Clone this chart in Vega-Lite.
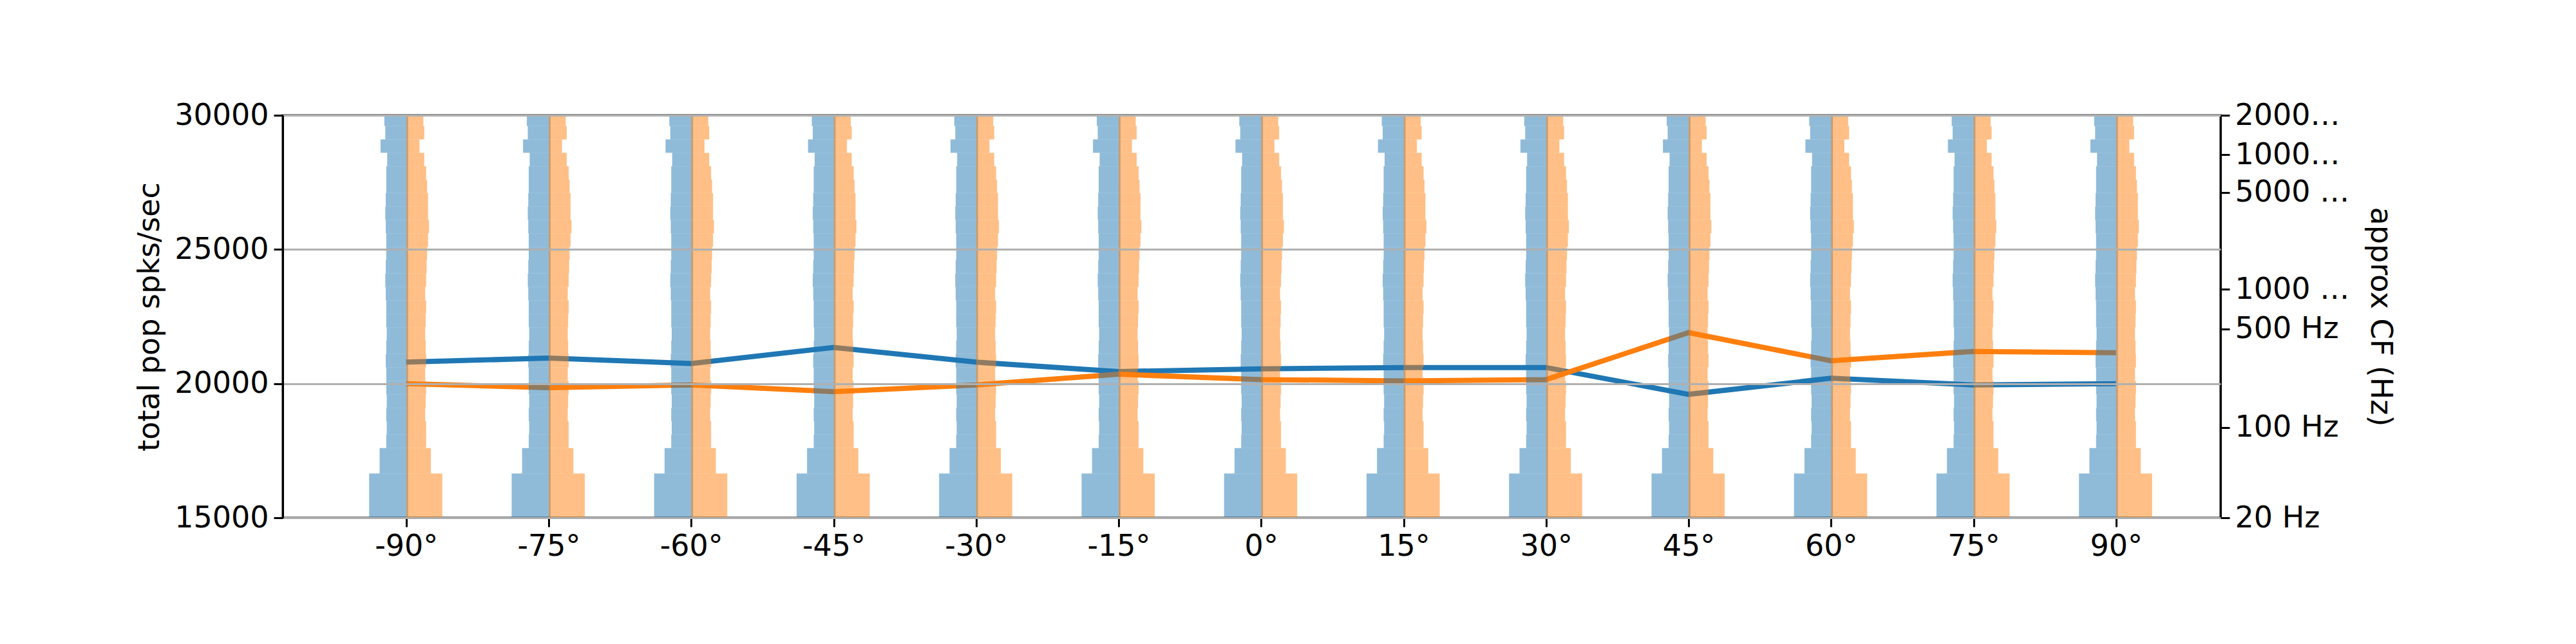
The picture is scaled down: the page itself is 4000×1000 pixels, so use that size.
{
"$schema":"https://vega.github.io/schema/vega-lite/v6.json",
"autosize":{"type":"none"},
"width":3009,"height":625,
"padding":{"left":439,"top":179,"right":552,"bottom":196},
"background":"white",
"config":{"font":"DejaVu Sans","view":{"stroke":"black","strokeWidth":3},
"axis":{"labelFontSize":46,"titleFontSize":46,"titleFontWeight":"normal","labelColor":"black","titleColor":"black","domainColor":"black","tickColor":"black","domainWidth":3,"tickWidth":3,"tickSize":14,"labelPadding":8}},
"datasets":{
"lines":[
{"angle":-90,"s":"b","v":20800},{"angle":-75,"s":"b","v":20950},{"angle":-60,"s":"b","v":20750},{"angle":-45,"s":"b","v":21350},{"angle":-30,"s":"b","v":20800},{"angle":-15,"s":"b","v":20450},{"angle":0,"s":"b","v":20550},{"angle":15,"s":"b","v":20600},{"angle":30,"s":"b","v":20600},{"angle":45,"s":"b","v":19600},{"angle":60,"s":"b","v":20200},{"angle":75,"s":"b","v":19950},{"angle":90,"s":"b","v":20000},
{"angle":-90,"s":"o","v":20000},{"angle":-75,"s":"o","v":19850},{"angle":-60,"s":"o","v":19950},{"angle":-45,"s":"o","v":19700},{"angle":-30,"s":"o","v":19950},{"angle":-15,"s":"o","v":20350},{"angle":0,"s":"o","v":20150},{"angle":15,"s":"o","v":20100},{"angle":30,"s":"o","v":20150},{"angle":45,"s":"o","v":21900},{"angle":60,"s":"o","v":20850},{"angle":75,"s":"o","v":21200},{"angle":90,"s":"o","v":21150}],
"hist":[
{"angle":-90},{"angle":-75},{"angle":-60},{"angle":-45},{"angle":-30},{"angle":-15},{"angle":0},{"angle":15},{"angle":30},{"angle":45},{"angle":60},{"angle":75},{"angle":90}],
"cf":[{"y":15000},{"y":18367},{"y":22041},{"y":23510},{"y":27122},{"y":28531},{"y":30000}]
},
"layer":[
{"layer":[
{"data":{"name":"lines"},"mark":{"type":"line","strokeWidth":8,"clip":true},
"encoding":{"x":{"field":"angle","type":"quantitative","scale":{"domain":[-103,101],"nice":false,"zero":false},
"axis":{"values":[-90,-75,-60,-45,-30,-15,0,15,30,45,60,75,90],"labelExpr":"datum.value+'°'","title":null,"grid":false}},
"y":{"field":"v","type":"quantitative","scale":{"domain":[15000,30000],"nice":false,"zero":false},
"axis":{"values":[15000,20000,25000,30000],"format":"d","title":"total pop spks/sec","grid":true,"gridColor":"#b0b0b0","gridWidth":3,"zindex":1,"titlePadding":14}},
"color":{"field":"s","type":"nominal","scale":{"domain":["b","o"],"range":["#1f77b4","#ff7f0e"]},"legend":null}}},
{"data":{"name":"hist"},
"transform":[
{"calculate":"[3.9,2.8,2.1,2.05,2.1,2.05,2.1,2.1,2.15,2.1,2.05,2.1,2.1,2.15,2.2,2.15,2.1,2.1,2.15,2.2,2.15,2.1,2.1,2.0,2.7,2.2,2.3]","as":"b"},
{"calculate":"[3.8,2.6,2.1,2.1,2.0,2.05,2.1,2.0,2.1,2.05,2.0,2.05,2.1,2.0,2.1,2.15,2.2,2.3,2.4,2.3,2.3,2.2,2.1,1.9,1.4,1.9,1.8]","as":"o"},
{"calculate":"[15000,16650,17600,18100,18600,19100,19600,20100,20600,21100,21600,22100,22600,23100,23600,24100,24600,25100,25600,26100,26600,27100,27600,28100,28600,29100,29600]","as":"lo"},
{"calculate":"[16650,17600,18100,18600,19100,19600,20100,20600,21100,21600,22100,22600,23100,23600,24100,24600,25100,25600,26100,26600,27100,27600,28100,28600,29100,29600,30000]","as":"hi"},
{"flatten":["b","o","lo","hi"]},
{"fold":["b","o"],"as":["side","w"]},
{"calculate":"datum.side=='b' ? datum.angle+0.2 : datum.angle","as":"xa"},
{"calculate":"datum.side=='b' ? datum.angle-datum.w : datum.angle+datum.w","as":"xb"}],
"mark":{"type":"rect","opacity":0.5},
"encoding":{"x":{"field":"xa","type":"quantitative"},"x2":{"field":"xb"},
"y":{"field":"lo","type":"quantitative"},"y2":{"field":"hi"},
"color":{"field":"side","type":"nominal","legend":null}}}
]},
{"data":{"name":"cf"},"mark":{"type":"rule","opacity":0},
"encoding":{"y":{"field":"y","type":"quantitative","scale":{"domain":[15000,30000],"nice":false,"zero":false},
"axis":{"orient":"right","values":[15000,18367,22041,23510,27122,28531,30000],"grid":false,"title":"approx CF (Hz)","titlePadding":24,
"labelExpr":"{'15000':'20 Hz','18367':'100 Hz','22041':'500 Hz','23510':'1000 Hz','27122':'5000 Hz','28531':'10000 Hz','30000':'20000 Hz'}[datum.value+'']"}}}}
],
"resolve":{"scale":{"y":"independent"}}
}
